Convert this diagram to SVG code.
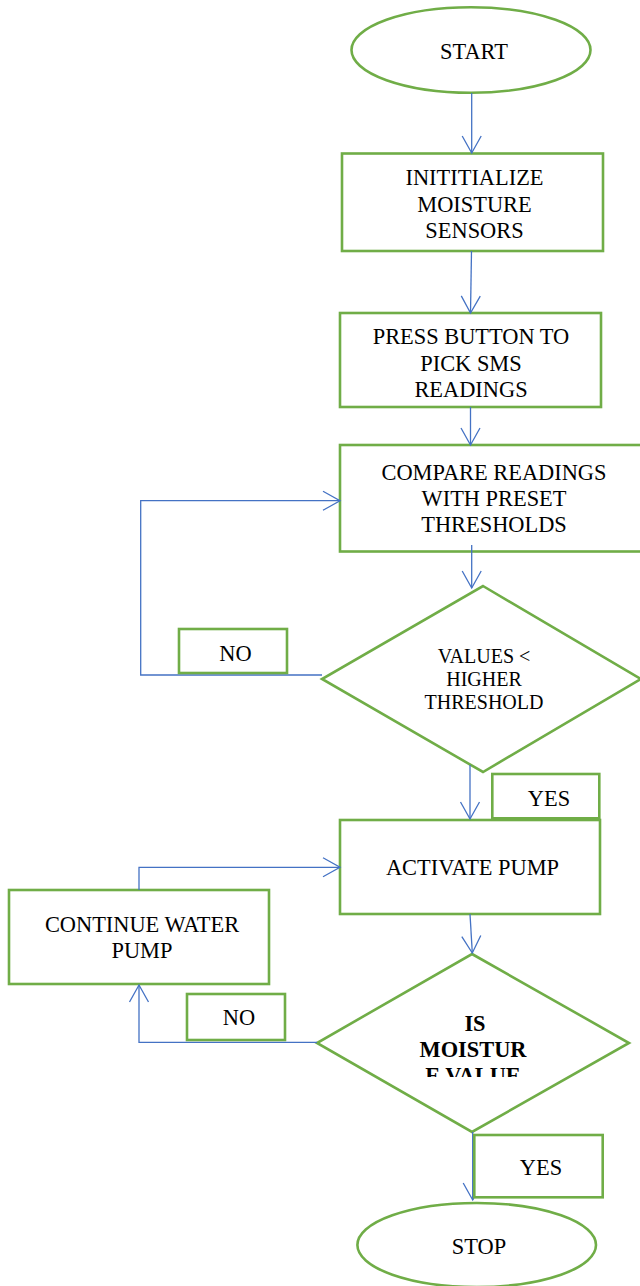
<svg xmlns="http://www.w3.org/2000/svg" width="640" height="1286" viewBox="0 0 640 1286">
<style>
.n{fill:#fff;stroke:#70AD47;stroke-width:2.6}
.t{font-family:"Liberation Serif","Times New Roman",serif;font-size:22.4px;fill:#000;text-anchor:middle}
.s{font-size:20px}
.b{font-weight:bold}
.c{fill:none;stroke:#4472C4;stroke-width:1.3}
</style>
<defs>
<marker id="ah" viewBox="-19 -11 21 22" markerWidth="21" markerHeight="22" refX="0" refY="0" markerUnits="userSpaceOnUse" orient="auto">
<path d="M-17,-9.5 L0,0 L-17,9.5" fill="none" stroke="#4472C4" stroke-width="1.3"/>
</marker>
<clipPath id="clipD2"><rect x="380" y="1000" width="190" height="77"/></clipPath>
</defs>
<rect width="640" height="1286" fill="#fff"/>
<g id="start">
<ellipse class="n" cx="471" cy="50" rx="119.5" ry="42.7"/>
<text class="t" x="474" y="59">START</text>
</g>
<g id="init">
<rect class="n" x="342" y="153.5" width="261" height="97.5"/>
<text class="t" x="474.5" y="185">INITITIALIZE</text>
<text class="t" x="474.5" y="212">MOISTURE</text>
<text class="t" x="474.5" y="238">SENSORS</text>
</g>
<g id="press">
<rect class="n" x="340" y="313" width="261" height="94"/>
<text class="t" x="471" y="344">PRESS BUTTON TO</text>
<text class="t" x="471" y="371">PICK SMS</text>
<text class="t" x="471" y="397">READINGS</text>
</g>
<g id="compare">
<rect class="n" x="340" y="445" width="310" height="106.5"/>
<text class="t" x="494" y="480">COMPARE READINGS</text>
<text class="t" x="494" y="506">WITH PRESET</text>
<text class="t" x="494" y="532">THRESHOLDS</text>
</g>
<g id="decision1">
<polygon class="n" points="483,586 641,679 483,772 322,679"/>
<text class="t s" x="484" y="663">VALUES &lt;</text>
<text class="t s" x="484" y="686">HIGHER</text>
<text class="t s" x="484" y="709">THRESHOLD</text>
</g>
<g id="activate">
<rect class="n" x="340" y="820" width="260" height="94"/>
<text class="t" x="472.5" y="875">ACTIVATE PUMP</text>
</g>
<g id="continue">
<rect class="n" x="9" y="890" width="260" height="94"/>
<text class="t" x="142" y="932">CONTINUE WATER</text>
<text class="t" x="142" y="958">PUMP</text>
</g>
<g id="decision2">
<polygon class="n" points="472,954 629,1043 472,1132 317,1043"/>
<g clip-path="url(#clipD2)">
<text class="t b" x="475" y="1031">IS</text>
<text class="t b" x="473" y="1057">MOISTUR</text>
<text class="t b" x="473" y="1083">E VALUE</text>
</g>
</g>
<g id="stop">
<ellipse class="n" cx="476.7" cy="1245" rx="119.3" ry="42"/>
<text class="t" x="479" y="1254">STOP</text>
</g>
<g id="connectors">
<path class="c" d="M471.7,93 V153" marker-end="url(#ah)"/>
<path class="c" d="M471.5,251 L470.5,313" marker-end="url(#ah)"/>
<path class="c" d="M470.5,407 V445" marker-end="url(#ah)"/>
<path class="c" d="M471.7,545 V588" marker-end="url(#ah)"/>
<path class="c" d="M322,675 H140.7 V500.7 H340" marker-end="url(#ah)"/>
<path class="c" d="M470,765 V819" marker-end="url(#ah)"/>
<path class="c" d="M470,914 L472.3,953" marker-end="url(#ah)"/>
<path class="c" d="M317,1042.3 H139 V985" marker-end="url(#ah)"/>
<path class="c" d="M139,890 V867.3 H340" marker-end="url(#ah)"/>
<path class="c" d="M472.7,1132 V1200" marker-end="url(#ah)"/>
</g>
<g id="label-no1">
<rect class="n" x="179" y="629" width="108" height="44"/>
<text class="t" x="235.5" y="661">NO</text>
</g>
<g id="label-yes1">
<rect class="n" x="492.3" y="774" width="107" height="44.3"/>
<text class="t" x="549" y="805.7">YES</text>
</g>
<g id="label-no2">
<rect class="n" x="187" y="994" width="98" height="46"/>
<text class="t" x="239" y="1025">NO</text>
</g>
<g id="label-yes2">
<rect class="n" x="474.3" y="1135" width="128.4" height="62.3"/>
<text class="t" x="541" y="1175">YES</text>
</g>
</svg>
